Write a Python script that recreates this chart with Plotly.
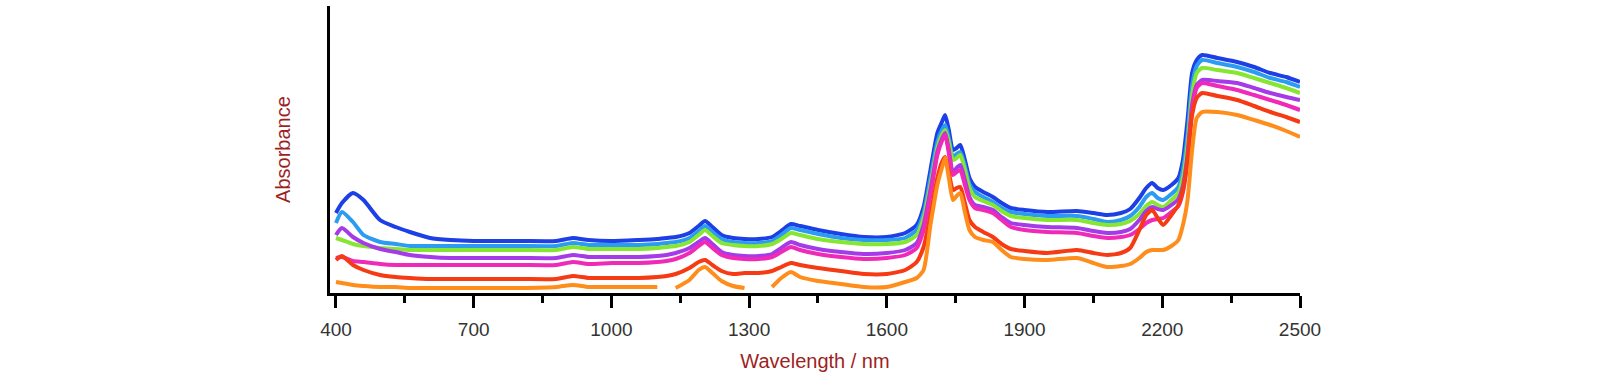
import plotly.graph_objects as go

wavelength = [400, 413, 437, 460, 496, 530, 561, 605, 650, 700,
              800, 880, 916, 950, 1000, 1060, 1100, 1120, 1140, 1170,
              1190, 1204, 1220, 1240, 1265, 1290, 1320, 1350, 1370, 1391,
              1411, 1450, 1500, 1550, 1600, 1640, 1665, 1680, 1695, 1710,
              1720, 1727, 1735, 1744, 1752, 1760, 1770, 1780, 1792, 1810,
              1831, 1850, 1870, 1900, 1950, 2014, 2050, 2080, 2110, 2130,
              2150, 2165, 2178, 2190, 2202, 2220, 2235, 2245, 2255, 2265,
              2275, 2287, 2320, 2363, 2400, 2435, 2470, 2500]

blue = [80, 90, 100, 93, 73, 66, 61, 55, 53, 52,
        52, 52, 55, 53, 52, 53, 54, 55, 56, 60,
        67, 72, 66, 58, 55, 54, 54, 56, 62, 69,
        67, 63, 59, 56, 56, 60, 68, 86, 123, 160,
        171, 178, 163, 143, 145, 148, 133, 115, 106, 101,
        96, 90, 85, 83, 81, 82, 80, 78, 80, 84,
        95, 105, 110, 105, 103, 108, 115, 133, 173, 220,
        233, 238, 235, 231, 226, 220, 216, 211]

light_blue = [70, 81, 71, 58, 51, 49, 47, 47, 47, 47,
              47, 47, 50, 48, 48, 48, 49, 50, 51, 55,
              62, 67, 61, 54, 51, 50, 50, 52, 58, 65,
              63, 59, 55, 53, 53, 55, 63, 80, 115, 151,
              163, 168, 155, 136, 139, 141, 127, 109, 101, 96,
              91, 85, 81, 79, 77, 77, 74, 71, 73, 77,
              86, 96, 100, 95, 93, 99, 106, 123, 158, 208,
              227, 233, 230, 226, 221, 215, 211, 206]

green = [55, 53, 49, 47, 45, 44, 43, 43, 43, 43,
         43, 43, 46, 44, 44, 44, 45, 46, 47, 51,
         58, 63, 57, 50, 48, 47, 47, 49, 54, 60,
         58, 54, 51, 49, 49, 51, 58, 75, 108, 145,
         158, 163, 151, 133, 135, 138, 123, 105, 96, 92,
         88, 82, 77, 75, 73, 73, 70, 68, 69, 72,
         79, 87, 91, 88, 86, 93, 100, 115, 148, 198,
         220, 225, 223, 220, 215, 210, 205, 200]

purple = [58, 65, 56, 50, 44, 41, 38, 36, 35, 35,
          35, 35, 38, 36, 36, 36, 37, 38, 40, 45,
          51, 55, 49, 41, 38, 37, 37, 39, 45, 51,
          48, 44, 41, 39, 40, 43, 50, 68, 103, 141,
          154, 160, 143, 120, 125, 128, 113, 96, 88, 86,
          83, 76, 70, 68, 66, 65, 62, 60, 61, 64,
          73, 82, 86, 84, 83, 88, 94, 107, 138, 188,
          208, 213, 212, 210, 205, 200, 196, 193]

magenta = [35, 36, 32, 31, 29, 28, 28, 28, 28, 28,
           28, 28, 31, 29, 30, 30, 31, 32, 34, 40,
           47, 51, 45, 38, 35, 34, 34, 36, 41, 46,
           43, 39, 36, 34, 35, 38, 45, 63, 98, 138,
           152, 158, 140, 118, 121, 123, 108, 93, 85, 83,
           80, 73, 66, 63, 61, 60, 57, 55, 56, 58,
           64, 70, 73, 74, 75, 81, 87, 101, 133, 183,
           205, 210, 207, 203, 198, 193, 188, 183]

red = [33, 37, 28, 23, 18, 16, 15, 14, 14, 14,
       14, 14, 17, 15, 15, 15, 16, 17, 19, 25,
       31, 33, 28, 22, 19, 20, 20, 22, 26, 30,
       28, 25, 22, 19, 19, 23, 31, 46, 78, 115,
       131, 136, 121, 103, 105, 106, 90, 73, 66, 61,
       56, 49, 44, 42, 40, 43, 40, 38, 40, 45,
       63, 78, 83, 75, 68, 78, 88, 103, 133, 178,
       195, 200, 197, 193, 187, 181, 176, 171]

orange = [11, 10, 8, 7, 6, 6, 5, 5, 5, 5,
          5, 6, 8, 6, 6, 6, 6, None, 5, 13,
          23, 26, 20, 12, 7, 5, None, 6, 15, 21,
          16, 12, 9, 6, 6, 11, 15, 23, 68, 108,
          125, 135, 115, 93, 97, 100, 81, 63, 56, 53,
          51, 43, 36, 34, 33, 35, 30, 26, 27, 29,
          35, 41, 43, 43, 43, 47, 53, 68, 93, 143,
          175, 181, 181, 178, 173, 168, 162, 156]

series = [
    ("blue", blue, "#1d3fe6"),
    ("light blue", light_blue, "#2b9cf2"),
    ("green", green, "#86e632"),
    ("purple", purple, "#a43ae8"),
    ("magenta", magenta, "#f02ab8"),
    ("red", red, "#f53a14"),
    ("orange", orange, "#ff8d1c"),
]

major_ticks = [400, 700, 1000, 1300, 1600, 1900, 2200, 2500]
minor_ticks = [550, 850, 1150, 1450, 1750, 2050, 2350]

fig = go.Figure()
for name, vals, color in series:
    fig.add_trace(go.Scatter(x=wavelength, y=vals, mode="lines", name=name,
                             line=dict(color=color, width=4, shape="spline", smoothing=0.6),
                             connectgaps=False, showlegend=False))

fig.update_layout(
    width=1600, height=382,
    margin=dict(l=330, r=300, t=6, b=89),
    paper_bgcolor="white", plot_bgcolor="white",
    font=dict(family="Liberation Sans, Arial, sans-serif", size=19, color="#333333"),
)
fig.update_xaxes(
    range=[387, 2500], showgrid=False, zeroline=False,
    showline=True, linecolor="black", linewidth=3,
    tickvals=major_ticks, ticktext=[str(t) for t in major_ticks],
    ticks="outside", ticklen=12, tickwidth=2.5, tickcolor="black",
    tickfont=dict(size=19, color="#333333"), ticklabelstandoff=5,
    minor=dict(tickvals=minor_ticks, ticks="outside", ticklen=7, tickwidth=2.5, tickcolor="black"),
    title=dict(text="Wavelength / nm", font=dict(size=20, color="#9e1f1f"), standoff=16),
)
fig.update_yaxes(
    range=[0, 287], showgrid=False, zeroline=False,
    showline=True, linecolor="black", linewidth=3,
    showticklabels=False, ticks="",
    title=dict(text="Absorbance", font=dict(size=20, color="#9e1f1f"), standoff=32),
)

fig.write_html("out.html", config={"displayModeBar": False},
               post_script="document.body.style.margin='0px';")
